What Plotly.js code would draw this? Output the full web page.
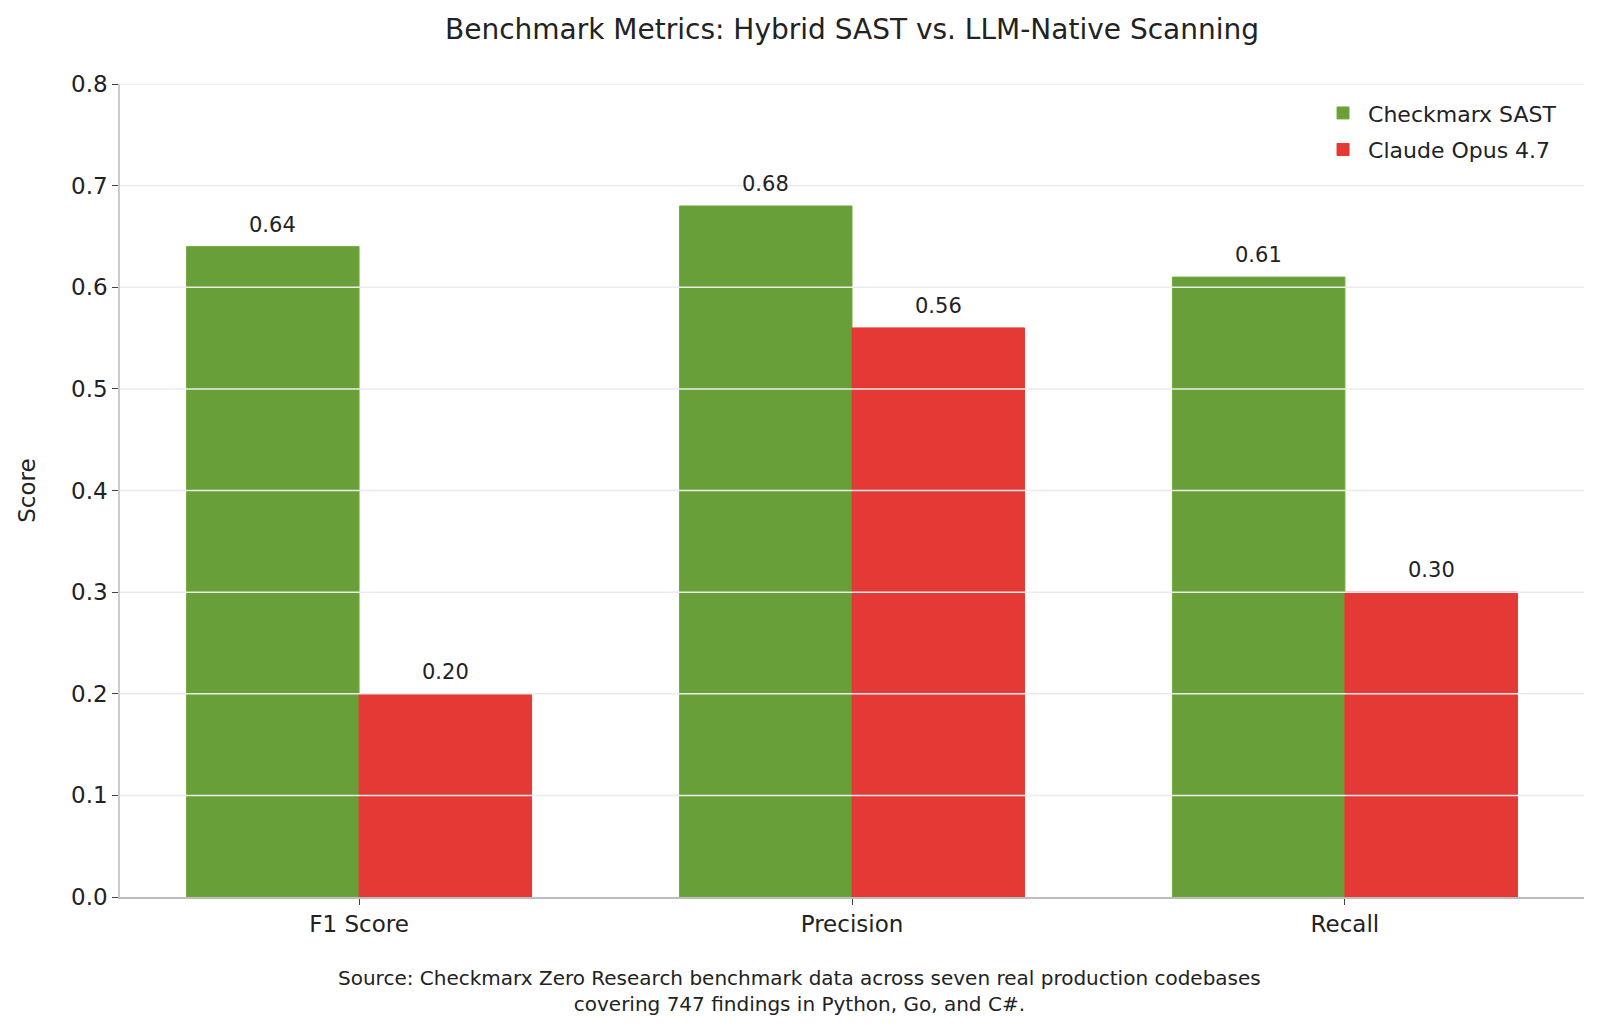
<!DOCTYPE html>
<html>
<head>
<meta charset="utf-8">
<script src="https://cdn.plot.ly/plotly-3.0.1.min.js"></script>
<style>
  html, body { margin: 0; padding: 0; background: #fff; }
  #chart { width: 1600px; height: 1031px; }
</style>
</head>
<body>
<div id="chart"></div>
<script>
const metrics = ['F1 Score', 'Precision', 'Recall'];
const sastScores = [0.64, 0.68, 0.61];
const claudeScores = [0.20, 0.56, 0.30];
const seriesNames = ['Checkmarx SAST', 'Claude Opus 4.7'];
const yTicks = [0.0, 0.1, 0.2, 0.3, 0.4, 0.5, 0.6, 0.7, 0.8];

const FONT = '"DejaVu Sans", "Open Sans", sans-serif';
const GREEN = '#689f38';
const RED = '#e53935';

const traces = [
    {
        type: 'bar',
        name: seriesNames[0],
        x: metrics,
        y: sastScores,
        marker: { color: GREEN, line: { color: '#74ab3c', width: 1 } },
        legendgroup: 'g1',
        hoverinfo: 'x+y+name'
    },
    {
        type: 'bar',
        name: seriesNames[1],
        x: metrics,
        y: claudeScores,
        marker: { color: RED, line: { color: '#e53935', width: 1 } },
        legendgroup: 'g2',
        hoverinfo: 'x+y+name'
    }
];

// value labels above each bar
const labels = [];
metrics.forEach((m, i) => {
    [[sastScores, -0.175], [claudeScores, 0.175]].forEach(([vals, off]) => {
        labels.push({
            x: i + off,
            y: vals[i],
            xref: 'x',
            yref: 'y',
            text: vals[i].toFixed(2),
            showarrow: false,
            yanchor: 'bottom',
            yshift: 8,
            font: { family: FONT, size: 21, color: '#222' }
        });
    });
});

labels.push({
    xref: 'paper',
    yref: 'paper',
    x: 0.464,
    y: -0.083,
    xanchor: 'center',
    yanchor: 'top',
    showarrow: false,
    align: 'center',
    text: 'Source: Checkmarx Zero Research benchmark data across seven real production codebases<br>covering 747 findings in Python, Go, and C#.',
    font: { family: FONT, size: 20, color: '#222' }
});

// grid lines drawn on top of the bars, as in the original
const gridLines = yTicks.filter(v => v > 0).map(v => ({
    type: 'line',
    xref: 'paper',
    yref: 'y',
    x0: 0,
    x1: 1,
    y0: v,
    y1: v,
    layer: 'above',
    line: { color: '#ebebeb', width: 1.5 }
}));

const layout = {
    width: 1600,
    height: 1031,
    paper_bgcolor: '#fff',
    plot_bgcolor: '#fff',
    margin: { l: 120, r: 16, t: 84, b: 134 },
    font: { family: FONT, color: '#222' },
    title: {
        text: 'Benchmark Metrics: Hybrid SAST vs. LLM-Native Scanning',
        x: 0.5,
        xref: 'paper',
        y: 0.972,
        yanchor: 'middle',
        font: { family: FONT, size: 28, color: '#222' }
    },
    barmode: 'group',
    bargap: 0.3,
    bargroupgap: 0,
    showlegend: true,
    legend: {
        x: 0.985,
        xanchor: 'right',
        y: 0.99,
        yanchor: 'top',
        bgcolor: 'rgba(255,255,255,0)',
        traceorder: 'grouped',
        tracegroupgap: 5,
        font: { family: FONT, size: 22, color: '#222' },
        itemwidth: 40
    },
    xaxis: {
        type: 'category',
        range: [-0.485, 2.485],
        showgrid: false,
        showline: true,
        linecolor: '#bdbdbd',
        linewidth: 1.5,
        ticks: 'outside',
        ticklen: 6,
        tickcolor: '#444',
        tickfont: { family: FONT, size: 23, color: '#222' },
        zeroline: false
    },
    yaxis: {
        range: [0, 0.8],
        tickvals: yTicks,
        ticktext: yTicks.map(v => v.toFixed(1)),
        showgrid: false,
        showline: true,
        linecolor: '#cccccc',
        linewidth: 1.5,
        ticks: 'outside',
        ticklen: 6,
        tickcolor: '#444',
        tickfont: { family: FONT, size: 23, color: '#222' },
        zeroline: false,
        title: {
            text: 'Score',
            standoff: 29,
            font: { family: FONT, size: 23, color: '#222' }
        }
    },
    shapes: gridLines,
    annotations: labels
};

Plotly.newPlot('chart', traces, layout, { displayModeBar: false, responsive: false });
</script>
</body>
</html>
